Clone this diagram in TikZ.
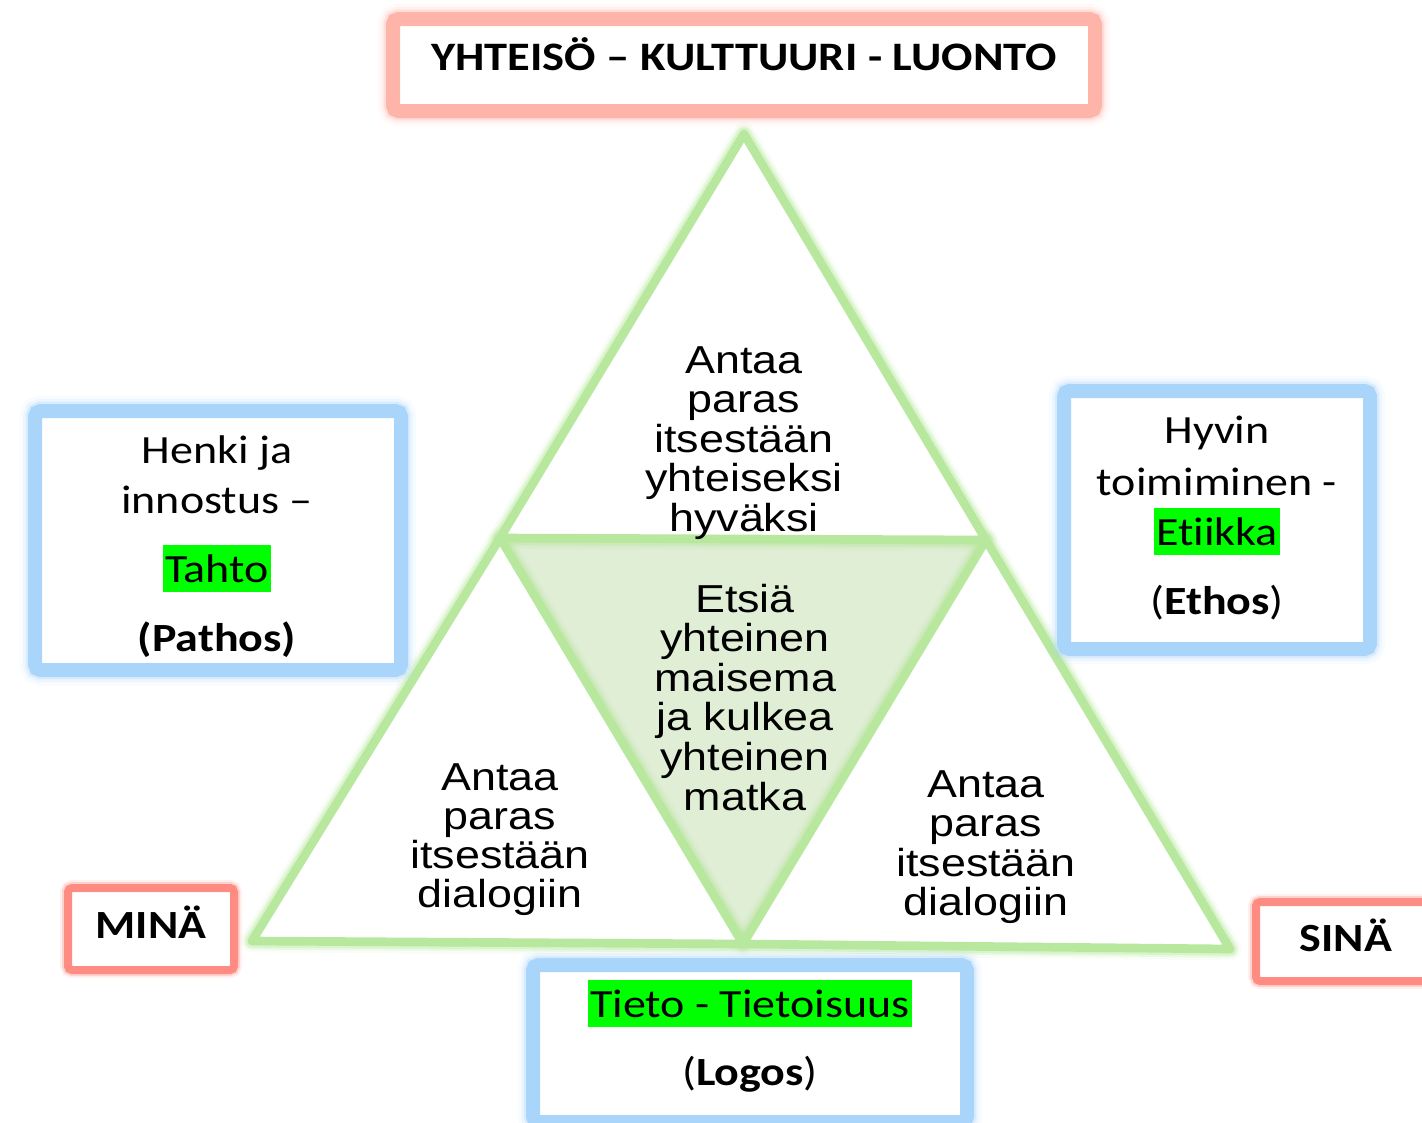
\documentclass[tikz,border=0pt]{standalone}
\usepackage{fontspec}
\newfontfamily\arialx[FakeStretch=1.15]{Liberation Sans}
\newfontfamily\calx[FakeStretch=1.15, Ligatures=NoCommon]{Carlito}
\definecolor{redsoft}{RGB}{255,180,170}
\definecolor{redmid}{RGB}{255,140,130}
\definecolor{bluesoft}{RGB}{170,213,251}
\definecolor{greenline}{RGB}{184,232,158}
\definecolor{midfill}{RGB}{224,238,214}
\definecolor{hlgreen}{RGB}{0,255,0}
\tikzset{
  edgehalo/.style={draw=greenline, line width=10pt, opacity=0.35, line join=round,
    preaction={draw=greenline, line width=13pt, opacity=0.2, line join=round},
    preaction={draw=greenline, line width=17pt, opacity=0.1, line join=round}},
  edgecore/.style={draw=greenline, line width=6.5pt, line join=round},
  glowbox/.style={rectangle, fill=white, draw=#1, line width=10.5pt, rounded corners=4pt, inner sep=0pt,
    preaction={draw=#1, line width=14pt, opacity=0.3, rounded corners=6pt},
    preaction={draw=#1, line width=18pt, opacity=0.15, rounded corners=8pt},
    preaction={draw=#1, line width=23pt, opacity=0.08, rounded corners=10pt}},
  smallbox/.style={rectangle, fill=white, draw=#1, line width=6pt, rounded corners=3pt, inner sep=0pt,
    preaction={draw=#1, line width=9pt, opacity=0.3, rounded corners=4pt},
    preaction={draw=#1, line width=12pt, opacity=0.12, rounded corners=5pt}},
  tri/.style={font=\arialx\fontsize{29.25pt}{30pt}\selectfont, inner sep=0pt, anchor=base},
  bx/.style={font=\calx\fontsize{30pt}{36pt}\selectfont, inner sep=0pt, anchor=base},
  bxb/.style={font=\calx\bfseries\fontsize{30pt}{36pt}\selectfont, inner sep=0pt, anchor=base},
  hl/.style={fill=hlgreen, inner xsep=1.5pt, inner ysep=0pt, text height=27.75pt, text depth=7.5pt}
}
\begin{document}
\begin{tikzpicture}[x=0.75pt, y=-0.75pt]
\useasboundingbox (0,0) rectangle (1422,1122);
\clip (0,0) rectangle (1422,1122);
% triangle corner points
\coordinate (A) at (744,134);
\coordinate (B) at (500,538);
\coordinate (C) at (986,540);
\coordinate (D) at (252,941);
\coordinate (E) at (743,944);
\coordinate (F) at (1230,949);
% middle fill
\fill[midfill] (B) -- (C) -- (E) -- cycle;
% soft outer glow of triangle edges
\draw[edgehalo] (A) -- (B) -- (C) -- cycle;
\draw[edgehalo] (B) -- (D) -- (E) -- cycle;
\draw[edgehalo] (C) -- (E) -- (F) -- cycle;
% clean interiors
\fill[white] (A) -- (B) -- (C) -- cycle;
\fill[white] (B) -- (D) -- (E) -- cycle;
\fill[white] (C) -- (E) -- (F) -- cycle;
% triangle edges
\draw[edgecore] (A) -- (B) -- (C) -- cycle;
\draw[edgecore] (B) -- (D) -- (E) -- cycle;
\draw[edgecore] (C) -- (E) -- (F) -- cycle;
% boxes
\node[glowbox=redsoft, minimum width=526.5pt, minimum height=69pt] (topbox) at (744,65) {};
\node[glowbox=bluesoft, minimum width=274.5pt, minimum height=194.25pt] (pathosbox) at (218,540.5) {};
\node[glowbox=bluesoft, minimum width=229.5pt, minimum height=193.5pt] (ethosbox) at (1217,520) {};
\node[glowbox=bluesoft, minimum width=325.5pt, minimum height=117.75pt] (logosbox) at (750,1043.5) {};
\node[smallbox=redmid, minimum width=124.5pt, minimum height=61.5pt] (minabox) at (151,929) {};
\node[smallbox=redmid, minimum width=141pt, minimum height=59.25pt] (sinabox) at (1350,941.5) {};
% triangle texts
\foreach \t [count=\i] in {Antaa,paras,itsestään,yhteiseksi,hyväksi}
  \node[tri] (up\i) at (744,{373+39.5*(\i-1)}) {\t};
\foreach \t [count=\i] in {Etsiä,yhteinen,maisema,ja kulkea,yhteinen,matka}
  \node[tri] (mid\i) at (745,{612+39.6*(\i-1)}) {\t};
\foreach \t [count=\i] in {Antaa,paras,itsestään,dialogiin}
  \node[tri] (lt\i) at (500,{790+39.3*(\i-1)}) {\t};
\foreach \t [count=\i] in {Antaa,paras,itsestään,dialogiin}
  \node[tri] (rt\i) at (986,{797+39.6*(\i-1)}) {\t};
% box texts
\node[bxb, font=\calx\bfseries\fontsize{30.3pt}{36pt}\selectfont] (title) at (744,70) {YHTEISÖ – KULTTUURI - LUONTO};
\node[bx] (henki) at (217,463) {Henki ja};
\node[bx] (innostus) at (217,513) {innostus –};
\node[bx, hl] (tahto) at (217,582) {Tahto};
\node[bxb] (pathos) at (217,651) {(Pathos)};
\node[bx] (hyvin) at (1217,443) {Hyvin};
\node[bx] (toimiminen) at (1217,495) {toimiminen -};
\node[bx, hl] (etiikka) at (1217,545) {Etiikka};
\node[bx] (ethos) at (1217,614) {(\textbf{Ethos})};
\node[bx, hl] (tieto) at (750,1017) {Tieto - Tietoisuus};
\node[bx] (logos) at (750,1085) {(\textbf{Logos})};
\node[bxb] (mina) at (151,938) {MINÄ};
\node[bxb] (sina) at (1346,951) {SINÄ};
\end{tikzpicture}
\end{document}
